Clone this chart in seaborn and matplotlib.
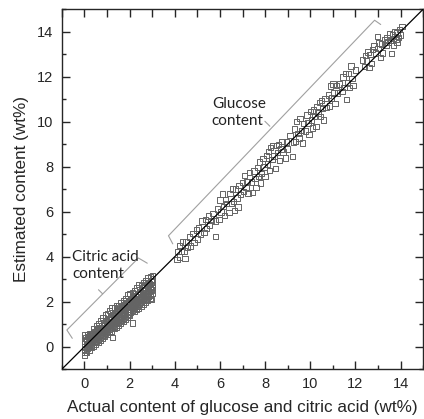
import matplotlib
matplotlib.use("Agg")
import matplotlib.pyplot as plt
import matplotlib.ticker as mticker
import pandas as pd
import seaborn as sns

# citric acid: actual vs estimated (wt%)
citric_actual = [
    0.00, 0.02, 0.00, 0.03, 0.01, 0.00, 0.04, 0.02,
    0.10, 0.12, 0.09, 0.13, 0.11, 0.08, 0.14, 0.12,
    0.20, 0.22, 0.19, 0.23, 0.21, 0.18, 0.24, 0.22,
    0.30, 0.32, 0.29, 0.33, 0.31, 0.28, 0.34, 0.32,
    0.40, 0.42, 0.39, 0.43, 0.41, 0.38, 0.44, 0.42,
    0.50, 0.52, 0.49, 0.53, 0.51, 0.48, 0.54, 0.52,
    0.60, 0.62, 0.59, 0.63, 0.61, 0.58, 0.64, 0.62,
    0.70, 0.72, 0.69, 0.73, 0.71, 0.68, 0.74, 0.72,
    0.80, 0.82, 0.79, 0.83, 0.81, 0.78, 0.84, 0.82,
    0.90, 0.92, 0.89, 0.93, 0.91, 0.88, 0.94, 0.92,
    1.00, 1.02, 0.99, 1.03, 1.01, 0.98, 1.04, 1.02,
    1.10, 1.12, 1.09, 1.13, 1.11, 1.08, 1.14, 1.12,
    1.20, 1.22, 1.19, 1.23, 1.21, 1.18, 1.24, 1.22,
    1.30, 1.32, 1.29, 1.33, 1.31, 1.28, 1.34, 1.32,
    1.40, 1.42, 1.39, 1.43, 1.41, 1.38, 1.44, 1.42,
    1.50, 1.52, 1.49, 1.53, 1.51, 1.48, 1.54, 1.52,
    1.60, 1.62, 1.59, 1.63, 1.61, 1.58, 1.64, 1.62,
    1.70, 1.72, 1.69, 1.73, 1.71, 1.68, 1.74, 1.72,
    1.80, 1.82, 1.79, 1.83, 1.81, 1.78, 1.84, 1.82,
    1.90, 1.92, 1.89, 1.93, 1.91, 1.88, 1.94, 1.92,
    2.00, 2.02, 1.99, 2.03, 2.01, 1.98, 2.04, 2.02,
    2.12, 2.12, 2.09, 2.13, 2.11, 2.08, 2.14, 2.12,
    2.20, 2.22, 2.19, 2.23, 2.21, 2.18, 2.24, 2.22,
    2.30, 2.32, 2.29, 2.33, 2.31, 2.28, 2.34, 2.32,
    2.40, 2.42, 2.39, 2.43, 2.41, 2.38, 2.44, 2.42,
    2.50, 2.52, 2.49, 2.53, 2.51, 2.48, 2.54, 2.52,
    2.60, 2.62, 2.59, 2.63, 2.61, 2.58, 2.64, 2.62,
    2.70, 2.72, 2.69, 2.73, 2.71, 2.68, 2.74, 2.72,
    2.80, 2.82, 2.79, 2.83, 2.81, 2.78, 2.84, 2.82,
    2.90, 2.92, 2.89, 2.93, 2.91, 2.88, 2.94, 2.92,
    2.98, 3.00, 2.97, 3.01, 2.99, 2.96, 3.02, 3.00,
    1.25, 2.83,
]
citric_est = [
    -0.40, -0.25, -0.10, 0.00, 0.12, 0.25, 0.38, 0.52,
    -0.25, -0.08, 0.02, 0.13, 0.24, 0.33, 0.45, 0.55,
    -0.15, 0.00, 0.12, 0.20, 0.30, 0.40, 0.50, 0.58,
    -0.05, 0.08, 0.20, 0.30, 0.38, 0.48, 0.58, 0.35,
    0.02, 0.18, 0.28, 0.38, 0.48, 0.55, 0.65, 0.80,
    0.10, 0.25, 0.37, 0.47, 0.56, 0.65, 0.75, 0.95,
    0.20, 0.33, 0.45, 0.55, 0.65, 0.74, 0.85, 1.02,
    0.28, 0.42, 0.54, 0.64, 0.74, 0.82, 0.95, 1.15,
    0.38, 0.50, 0.62, 0.73, 0.83, 0.92, 1.05, 1.30,
    0.45, 0.60, 0.70, 0.82, 0.92, 1.02, 1.15, 1.40,
    0.55, 0.68, 0.80, 0.90, 1.00, 1.10, 1.25, 1.45,
    0.62, 0.76, 0.88, 0.98, 1.08, 1.20, 1.35, 1.62,
    0.70, 0.85, 0.96, 1.08, 1.18, 1.28, 1.42, 1.75,
    0.80, 0.92, 1.05, 1.16, 1.26, 1.38, 1.50, 1.72,
    0.88, 1.02, 1.14, 1.25, 1.35, 1.46, 1.60, 1.82,
    0.95, 1.10, 1.22, 1.34, 1.44, 1.55, 1.70, 1.80,
    1.05, 1.18, 1.30, 1.42, 1.52, 1.63, 1.76, 1.95,
    1.12, 1.27, 1.40, 1.50, 1.62, 1.72, 1.85, 2.05,
    1.22, 1.35, 1.48, 1.60, 1.70, 1.80, 1.95, 2.15,
    1.30, 1.44, 1.56, 1.68, 1.78, 1.90, 2.02, 2.30,
    1.40, 1.52, 1.65, 1.76, 1.88, 1.98, 2.10, 2.35,
    1.05, 1.60, 1.74, 1.86, 1.96, 2.06, 2.20, 2.40,
    1.55, 1.70, 1.82, 1.94, 2.05, 2.15, 2.28, 2.50,
    1.65, 1.78, 1.90, 2.02, 2.14, 2.24, 2.36, 2.60,
    1.72, 1.86, 2.00, 2.12, 2.22, 2.34, 2.45, 2.75,
    1.80, 1.95, 2.08, 2.20, 2.32, 2.42, 2.55, 2.72,
    1.90, 2.04, 2.16, 2.28, 2.40, 2.52, 2.65, 2.85,
    1.98, 2.12, 2.25, 2.38, 2.50, 2.60, 2.75, 2.95,
    2.05, 2.22, 2.34, 2.46, 2.58, 2.70, 2.85, 3.05,
    2.15, 2.30, 2.44, 2.56, 2.68, 2.80, 2.95, 3.12,
    2.10, 2.38, 2.52, 2.64, 2.76, 2.88, 3.00, 3.15,
    0.40, 2.23,
]

# glucose: actual vs estimated (wt%)
glucose_actual = [
    4.10, 4.15, 4.20, 4.22, 4.30, 4.35, 4.40, 4.45, 4.50, 4.55,
    4.65, 4.70, 4.80, 4.85, 4.95, 5.00, 5.05, 5.15, 5.20, 5.30,
    5.35, 5.40, 5.50, 5.55, 5.60, 5.70, 5.79, 5.80, 5.90, 5.95,
    6.00, 6.05, 6.10, 6.15, 6.20, 6.25, 6.30, 6.40, 6.45, 6.50,
    6.55, 6.60, 6.65, 6.70, 6.75, 6.80, 6.85, 6.90, 7.00, 7.05,
    7.10, 7.15, 7.20, 7.25, 7.30, 7.40, 7.45, 7.50, 7.55, 7.60,
    7.65, 7.70, 7.75, 7.80, 7.85, 7.90, 7.95, 8.00, 8.05, 8.10,
    8.15, 8.20, 8.25, 8.30, 8.35, 8.40, 8.45, 8.50, 8.55, 8.60,
    8.65, 8.70, 8.75, 8.80, 8.90, 8.95, 9.00, 9.10, 9.20, 9.25,
    9.30, 9.35, 9.40, 9.45, 9.50, 9.55, 9.60, 9.65, 9.70, 9.80,
    9.85, 9.90, 9.95, 10.00, 10.05, 10.10, 10.15, 10.20, 10.25, 10.30,
    10.35, 10.40, 10.45, 10.50, 10.55, 10.60, 10.65, 10.70, 10.80, 10.85,
    10.90, 10.95, 11.00, 11.05, 11.10, 11.15, 11.20, 11.30, 11.40, 11.60,
    11.45, 11.50, 11.55, 11.65, 11.70, 11.75, 11.80, 11.85, 11.90, 12.00,
    12.30, 12.40, 12.45, 12.50, 12.55, 12.60, 12.65, 12.70, 12.75, 12.83,
    12.90, 12.97, 13.00, 13.05, 13.10, 13.15, 13.20, 13.30, 13.35, 13.40,
    13.45, 13.50, 13.55, 13.60, 13.65, 13.70, 13.75, 13.80, 13.85, 13.90,
    13.95, 14.00, 14.06, 13.70, 13.85,
]
glucose_est = [
    3.88, 4.23, 3.98, 4.49, 4.22, 4.65, 4.25, 3.93, 4.65, 4.40,
    4.88, 4.48, 5.02, 4.62, 5.18, 4.78, 5.28, 5.00, 5.58, 5.08,
    5.65, 5.25, 5.80, 5.40, 5.62, 5.92, 4.90, 5.58, 6.12, 5.65,
    6.52, 5.98, 6.78, 6.22, 5.82, 6.55, 6.35, 5.95, 6.82, 6.35,
    7.00, 6.45, 6.05, 7.00, 6.60, 6.20, 7.15, 6.75, 7.30, 6.90,
    7.62, 7.08, 7.35, 6.80, 7.75, 7.32, 6.85, 7.80, 7.48, 7.08,
    7.95, 7.55, 8.20, 7.28, 7.70, 8.35, 7.98, 7.55, 8.50, 8.12,
    8.68, 7.82, 8.85, 8.32, 8.95, 8.48, 7.92, 8.95, 8.62, 8.98,
    8.28, 8.78, 9.12, 8.65, 8.38, 9.10, 8.78, 9.40, 8.46, 9.10,
    9.68, 9.12, 10.00, 9.48, 9.28, 10.15, 9.62, 9.05, 9.92, 9.58,
    10.30, 9.95, 9.42, 10.45, 10.08, 9.72, 10.52, 10.22, 9.80, 10.68,
    10.38, 10.85, 10.22, 10.95, 10.58, 10.08, 11.02, 10.62, 11.18, 10.70,
    11.58, 11.05, 11.68, 11.28, 10.80, 11.60, 11.28, 11.68, 11.35, 10.98,
    11.98, 11.52, 12.15, 11.72, 12.15, 11.52, 12.48, 11.92, 11.60, 12.30,
    12.75, 12.45, 12.95, 12.70, 13.10, 12.40, 13.00, 12.60, 13.20, 13.36,
    13.05, 13.80, 13.25, 13.50, 12.85, 13.45, 13.05, 13.65, 13.40, 13.75,
    13.55, 13.90, 13.60, 13.02, 13.85, 13.70, 14.00, 13.65, 13.95, 13.75,
    14.10, 13.85, 14.22, 13.40, 13.55,
]

# bracket outlines (annotation guides)
citric_brace_x = [-0.54, -0.78, 2.39, 2.78]
citric_brace_y = [0.37, 0.74, 3.94, 3.71]
citric_nub_x = [0.80, 0.62]
citric_nub_y = [2.35, 2.53]
glucose_brace_x = [3.91, 3.72, 12.85, 13.12]
glucose_brace_y = [4.57, 4.93, 14.51, 14.32]
glucose_nub_x = [8.21, 7.99]
glucose_nub_y = [9.80, 10.02]

df = pd.DataFrame({
    "actual": citric_actual + glucose_actual,
    "estimated": citric_est + glucose_est,
})

sns.set_style("ticks")
plt.rcParams["font.family"] = ["Liberation Sans", "DejaVu Sans"]

fig = plt.figure(figsize=(4.24, 4.19), dpi=100)
ax = fig.add_axes([0.146, 0.119, 0.852, 0.859])

sns.scatterplot(data=df, x="actual", y="estimated", marker="s", s=15,
                facecolor="none", edgecolor="#646464", linewidth=0.7, ax=ax)
ax.axline((0, 0), slope=1, color="black", lw=0.9, zorder=3)

gray = "#a0a0a0"
ax.plot(citric_brace_x, citric_brace_y, color=gray, lw=0.8)
ax.plot(citric_nub_x, citric_nub_y, color=gray, lw=0.8)
ax.plot(glucose_brace_x, glucose_brace_y, color=gray, lw=0.8)
ax.plot(glucose_nub_x, glucose_nub_y, color=gray, lw=0.8)

ax.text(-0.54, 4.3, "Citric acid\ncontent", fontsize=11, family="Lato",
        color="#222222", va="top", linespacing=1.3)
ax.text(5.64, 11.1, "Glucose\ncontent", fontsize=11, family="Lato",
        color="#222222", va="top", linespacing=1.3)

ax.set_xlim(-1, 15)
ax.set_ylim(-1, 15)
ax.xaxis.set_major_locator(mticker.FixedLocator([0, 2, 4, 6, 8, 10, 12, 14]))
ax.yaxis.set_major_locator(mticker.FixedLocator([0, 2, 4, 6, 8, 10, 12, 14]))
ax.xaxis.set_minor_locator(mticker.MultipleLocator(1))
ax.yaxis.set_minor_locator(mticker.MultipleLocator(1))
ax.tick_params(which="both", direction="in", top=True, right=True, width=1.0)
ax.tick_params(which="major", length=5.5, labelsize=10.5, pad=6)
ax.tick_params(which="minor", length=2.8)
for t in ax.xaxis.get_minor_ticks():
    t.tick2line.set_markersize(5.5)
for sp in ax.spines.values():
    sp.set_linewidth(1.0)

ax.set_xlabel("Actual content of glucose and citric acid (wt%)", fontsize=12.3, labelpad=6)
ax.set_ylabel("Estimated content (wt%)", fontsize=12.3, labelpad=6)

fig.savefig("out.png", dpi=100)
